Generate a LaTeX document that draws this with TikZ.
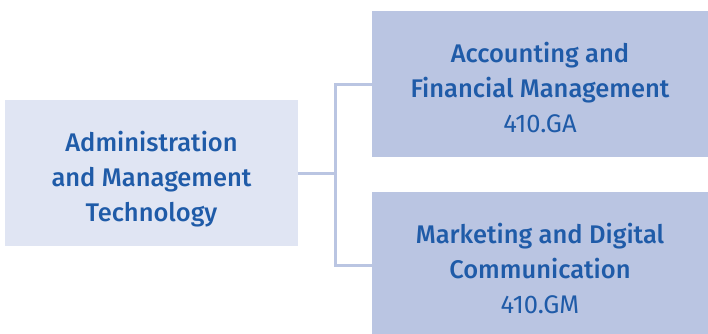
\documentclass[tikz,border=0pt]{standalone}
\usepackage{fontspec}
\setmainfont{Fira Sans}[UprightFont=* Medium]
\newfontfamily\codefont{Fira Sans}
\definecolor{boxlight}{HTML}{E0E5F3}
\definecolor{boxdark}{HTML}{BAC5E2}
\definecolor{textblue}{HTML}{1F5BA8}
\newcommand\lift[1]{\rule{0pt}{#1pt}}
\tikzset{
  prog/.style={rectangle, inner sep=0pt, align=center, text=textblue,
    font=\fontsize{25.5}{35}\selectfont},
  leftbox/.style={prog, fill=boxlight, minimum width=293, minimum height=146},
  rightbox/.style={prog, fill=boxdark, minimum width=336, minimum height=146},
  link/.style={draw=boxdark, line width=3}
}
\begin{document}
\begin{tikzpicture}[x=1pt,y=-1pt]
\useasboundingbox (0,0) rectangle (708,333);
\node[leftbox] (adm) at (151.5,173){\lift{33}Administration\\and Management\\Technology};
\node[rightbox] (ga) at (540,84){\lift{27}Accounting and\\Financial Management\\{\codefont 410.GA}};
\node[rightbox] (gm) at (540,265){\lift{27}Marketing and Digital\\Communication\\{\codefont 410.GM}};
\coordinate (fork) at (335,173);
\draw[link](adm.east) -- (fork);
\draw[link](fork) |- (ga.west);
\draw[link](fork) |- (gm.west);

\end{tikzpicture}
\end{document}
